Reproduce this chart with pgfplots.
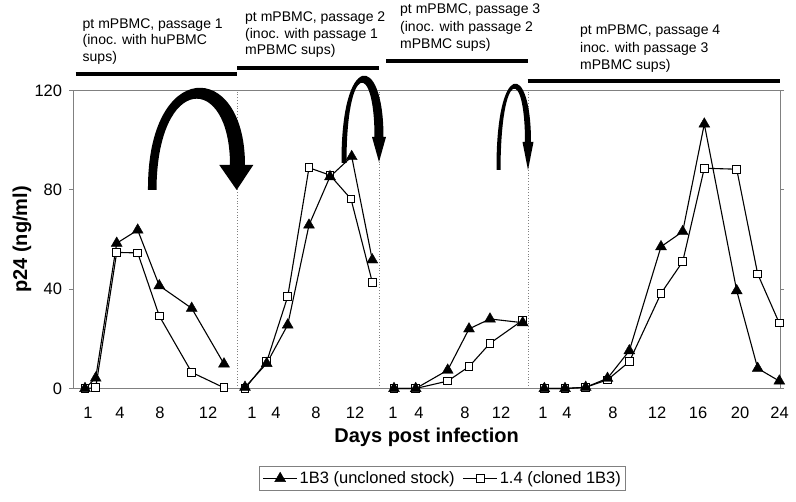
\documentclass[border=0pt]{standalone}
\usepackage{fontspec}
\setmainfont{Liberation Sans}
\usepackage{pgfplots}
\pgfplotsset{compat=1.18}
\usetikzlibrary{arrows.meta}

\pgfplotstableread{
x y
85 0
95.7 4.2
116.7 58.5
137.7 63.8
159.3 41.4
191.7 32.3
224 9.9
230 nan
245 0.5
266.7 10.1
287.7 25.6
309 65.8
330 85.3
351.7 93.4
372.3 51.8
380 nan
394 0
415.7 0
447.7 7.4
469 24
490 28
522.7 26.5
530 nan
544.3 0
565 0
585.7 0.5
607.5 4.1
629.3 15.2
661 57.1
682.7 63.2
704.3 106.5
736.7 39.4
757.7 8.1
779.3 3.0
}\uncloned

\pgfplotstableread{
x y
85 0
95.7 0.3
116.7 54.8
137.7 54.6
159.3 29.2
191.7 6.5
224 0.3
230 nan
245 0
266.7 10.8
287.7 37
309 88.9
330 85.9
351 76.3
372.3 42.8
380 nan
394 0
415.7 0
447.7 3
469 8.8
490 18.2
522.7 27.5
530 nan
544.3 0
565 0
585.7 0.5
607.5 3.5
629.3 10.8
661 38.3
682.7 51.1
704.3 88.7
736.7 88.3
757.7 46.1
779.3 26.3
}\cloned

\begin{document}
\begin{tikzpicture}
\useasboundingbox (0,0) rectangle (796bp,502bp);
\begin{axis}[
  at={(73.3bp,113.5bp)}, anchor=south west,
  scale only axis, width=706.7bp, height=298bp,
  xmin=73.3, xmax=780, ymin=0, ymax=120,
  clip=false,
  unbounded coords=jump,
  axis line style={draw=black!50, line width=0.8bp},
  xtick={88,120,160,208,252,276,316,355,393,419,465,501,543,567,613,657,698,740,779.5},
  xticklabels={1,4,8,12,1,4,8,12,1,4,8,12,1,4,8,12,16,20,24},
  xtick style={draw=none},
  ytick={0,40,80,120},
  ytick style={draw=black!50, line width=0.8bp},
  tick align=outside, major tick length=4bp,
  /pgf/number format/assume math mode=true,
  tick label style={font=\fontsize{16.5bp}{19bp}\selectfont, inner sep=0pt},
  xticklabel style={anchor=base, yshift=-26.5bp},
  yticklabel style={anchor=east, xshift=-7bp},
  xlabel={Days post infection},
  xlabel style={font=\fontsize{20bp}{23bp}\selectfont\bfseries, at={(axis description cs:0.5,-0.163)}, anchor=center},
  ylabel={p24 (ng/ml)},
  ylabel style={font=\fontsize{20bp}{23bp}\selectfont\bfseries, at={(axis description cs:-0.0726,0.5)}, anchor=center},
  legend style={draw=black!50, line width=0.8bp, font=\fontsize{16.5bp}{19bp}\selectfont,
    at={(axis description cs:0.5228,-0.302)}, anchor=center, legend columns=2,
    /tikz/every even column/.append style={column sep=6bp}, inner sep=3bp},
  reverse legend,
  legend image code/.code={\draw[mark repeat=2,mark phase=2] plot coordinates {(0bp,0bp) (17bp,0bp) (34bp,0bp)};},
]
\draw[black!50, dotted, line width=0.8bp] (axis cs:237.5,0) -- (axis cs:237.5,120);
\draw[black!50, dotted, line width=0.8bp] (axis cs:379,0) -- (axis cs:379,120);
\draw[black!50, dotted, line width=0.8bp] (axis cs:528,0) -- (axis cs:528,120);
\addplot[black, line width=1.1bp, mark=square*, mark size=3.8bp, mark options={fill=white, line width=1bp}] table {\cloned};
\addlegendentry{1.4 (cloned 1B3)}
\addplot[black, line width=1.1bp, mark=triangle*, mark size=6.3bp, mark options={fill=black, line width=0.4bp}] table {\uncloned};
\addlegendentry{1B3 (uncloned stock)}
\end{axis}
\begin{scope}[x=1bp,y=-1bp,shift={(0bp,502bp)}]
  % header lines
  \draw[line width=3.8bp] (75.7,74.3) -- (236.7,74.3);
  \draw[line width=3.8bp] (237.3,68.3) -- (379.3,68.3);
  \draw[line width=3.8bp] (386,61) -- (527.7,61);
  \draw[line width=3.8bp] (527.7,81) -- (780,81);
  \begin{scope}[every node/.style={anchor=base west, inner sep=0pt, font=\fontsize{14bp}{17bp}\selectfont}]
  \node at (82.5,28.3) {pt mPBMC, passage 1};
  \node at (82.5,45) {(inoc. with huPBMC};
  \node at (82.5,61.7) {sups)};
  \node at (245,21.7) {pt mPBMC, passage 2};
  \node at (245,38.3) {(inoc. with passage 1};
  \node at (245,55) {mPBMC sups)};
  \node at (400,14) {pt mPBMC, passage 3};
  \node at (400,31.7) {(inoc. with passage 2};
  \node at (400,48.3) {mPBMC sups)};
  \node at (580,35) {pt mPBMC, passage 4};
  \node at (580,52.7) {inoc. with passage 3};
  \node at (580,69.3) {mPBMC sups)};
  \end{scope}
  % curved arrows
  \fill (148,190) .. controls (147,58.2) and (245,58.2) .. (245,165)
        -- (253.3,165) -- (236.7,190) -- (219.3,165) -- (230,165)
        .. controls (230,72.8) and (157,72.8) .. (156.5,190) -- cycle;
  \fill (341.5,163) .. controls (341,51.3) and (383.5,51.3) .. (383.5,137)
        -- (386,137) -- (379,162) -- (372,137) -- (374.5,137)
        .. controls (374.5,60.7) and (346.5,60.7) .. (346.5,163) -- cycle;
  \fill (496.5,170) .. controls (496,60) and (531,60) .. (531,142)
        -- (533.5,142) -- (528,170) -- (522.5,142) -- (525,142)
        .. controls (525,66.7) and (501,66.7) .. (500.5,170) -- cycle;
\end{scope}
\end{tikzpicture}
\end{document}
